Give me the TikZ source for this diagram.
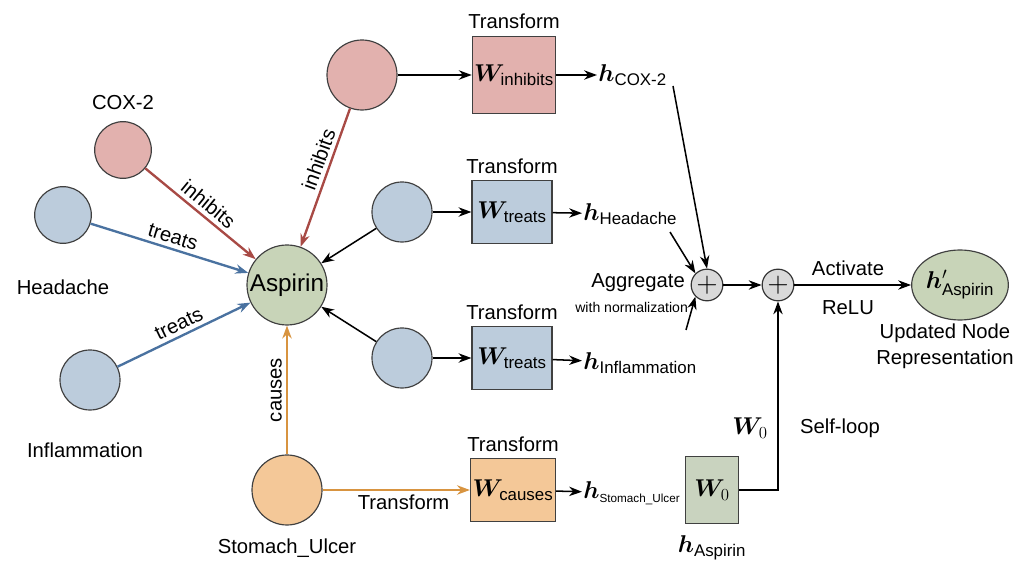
\documentclass[tikz,border=0pt]{standalone}
\usepackage{amsmath,bm}
\usepackage{fontspec}
\setmainfont{Liberation Sans}
\usetikzlibrary{arrows.meta,shapes.geometric}
\definecolor{redf}{HTML}{E2B1AE}\definecolor{redd}{HTML}{A84A45}
\definecolor{bluef}{HTML}{BCCCDC}\definecolor{blued}{HTML}{4A72A0}
\definecolor{greenf}{HTML}{C8D4B8}\definecolor{orangef}{HTML}{F4C898}\definecolor{oranged}{HTML}{D89440}
\definecolor{grayf}{HTML}{D9D9D9}\definecolor{w0f}{HTML}{C9D3BF}
\begin{document}
\begin{tikzpicture}[x=0.03cm,y=-0.03cm,
 ent/.style={circle,draw=black!75,line width=1pt,inner sep=0pt},
 tbox/.style={draw=black!75,line width=1pt,minimum width=2.4cm,minimum height=1.9cm,font=\huge,inner sep=1pt},
 plus/.style={circle,draw=black!80,line width=1pt,fill=grayf,minimum size=0.95cm,inner sep=0pt,font=\Huge},
 arr/.style={-{Stealth[length=11pt,width=8pt]},line width=1.3pt},
 carr/.style={arr,line width=2pt},
 lbl/.style={font=\LARGE},
 hl/.style={font=\huge,inner sep=1pt}]
\useasboundingbox (0,0) rectangle (1024,571);
% left entities
\node[ent,fill=redf,minimum size=1.7cm] (cox) at (123,150) {};
\node[lbl] at (123,103) {COX-2};
\node[ent,fill=bluef,minimum size=1.7cm] (head) at (63,215) {};
\node[lbl] at (63,287) {Headache};
\node[ent,fill=bluef,minimum size=1.8cm] (infl) at (90,380) {};
\node[lbl] at (85,450) {Inflammation};
\node[ent,fill=greenf,minimum size=2.4cm,font=\huge] (asp) at (287,285) {Aspirin};
\node[ent,fill=orangef,minimum size=2.1cm] (stom) at (287,490) {};
\node[lbl] at (287,548) {Stomach\_Ulcer};
% neighbour copies
\node[ent,fill=redf,minimum size=2.1cm] (rc) at (362,75) {};
\node[ent,fill=bluef,minimum size=1.8cm] (bc1) at (402,212) {};
\node[ent,fill=bluef,minimum size=1.8cm] (bc2) at (402,358) {};
% boxes
\node[tbox,fill=redf,minimum height=2.3cm,minimum width=2.5cm] (wi) at (514,75) {$\bm{W}_{\text{inhibits}}$};
\node[lbl,anchor=south] at (514,33) {Transform};
\node[tbox,fill=bluef] (wt1) at (512,212) {$\bm{W}_{\text{treats}}$};
\node[lbl,anchor=south] at (512,178) {Transform};
\node[tbox,fill=bluef] (wt2) at (512,358) {$\bm{W}_{\text{treats}}$};
\node[lbl,anchor=south] at (512,324) {Transform};
\node[tbox,fill=orangef,minimum width=2.55cm] (wc) at (513,490) {$\bm{W}_{\text{causes}}$};
\node[lbl,anchor=south] at (513,456) {Transform};
\node[tbox,fill=w0f,minimum width=1.6cm,minimum height=2cm] (w0) at (712,490) {$\bm{W}_0$};
% h labels
\node[hl,anchor=west] (hc) at (597,75) {$\bm{h}_{\text{COX-2}}$};
\node[hl,anchor=west] (hh) at (582,214) {$\bm{h}_{\text{Headache}}$};
\node[hl,anchor=west] (hi) at (582,363) {$\bm{h}_{\text{Inflammation}}$};
\node[hl,anchor=west] (hs) at (582,493) {$\bm{h}_{\text{\normalsize Stomach\_Ulcer}}$};
\node[hl] at (712,548) {$\bm{h}_{\text{Aspirin}}$};
% aggregation
\node[plus] (p1) at (707,285) {$+$};
\node[plus] (p2) at (778,285) {$+$};
\node[ent,ellipse,fill=greenf,minimum width=2.65cm,minimum height=2.1cm,font=\huge,inner sep=0pt] (out) at (960,285) {$\bm{h}'_{\text{Aspirin}}$};
\node[lbl,anchor=east] at (689,283) {Aggregate};
\node[anchor=east,font=\large] at (692,307) {with normalization};
\node[lbl] at (848,268) {Activate};
\node[lbl] at (848,308) {ReLU};
\node[lbl,align=center] at (945,346) {Updated Node\\Representation};
\node[font=\huge] at (750,428) {$\bm{W}_0$};
\node[lbl] at (840,428) {Self-loop};
% KG edges
\draw[carr,redd] (cox) -- node[sloped,above,black,lbl]{inhibits} (asp);
\draw[carr,blued] (head) -- node[sloped,above,black,lbl]{treats} (asp);
\draw[carr,blued] (infl) -- node[sloped,above,black,lbl]{treats} (asp);
\draw[carr,redd] (rc) -- node[sloped,above,black,lbl,pos=0.4]{inhibits} (asp);
\draw[carr,oranged] (stom) -- node[sloped,above,black,lbl]{causes} (asp);
\draw[carr,oranged] (stom) -- node[below,black,lbl,pos=0.55]{Transform} (wc);
\draw[arr] (bc1) -- (asp);
\draw[arr] (bc2) -- (asp);
% transform flows
\draw[arr] (rc) -- (wi);
\draw[arr] (bc1) -- (wt1);
\draw[arr] (bc2) -- (wt2);
\draw[arr] (wi) -- (hc);
\draw[arr] (wt1) -- (hh);
\draw[arr] (wt2) -- (hi);
\draw[arr] (wc) -- (hs);
\coordinate (c1) at (673,86);
\coordinate (c2) at (670,232);
\coordinate (c3) at (686,330);
\draw[arr] (c1) -- (p1.north);
\draw[arr] (c2) -- (p1.north west);
\draw[arr] (c3) -- (p1.south west);
\draw[arr] (p1) -- (p2);
\draw[arr] (p2) -- (out);
\draw[arr] (w0.east) -| (p2.south);
\end{tikzpicture}
\end{document}
